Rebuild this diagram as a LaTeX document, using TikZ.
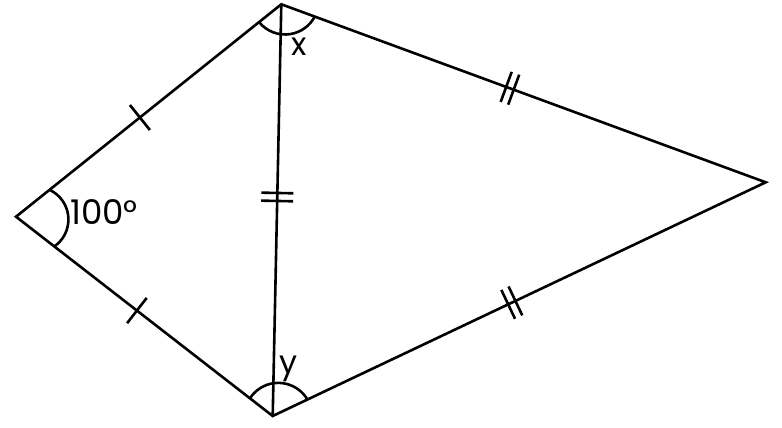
\documentclass[tikz,border=0pt]{standalone}
\usepackage{fontspec}
\setmainfont{Poppins}
\usetikzlibrary{calc}
\begin{document}
\begin{tikzpicture}[x=1pt,y=1pt,
  edge/.style={line width=2.6pt,line cap=round,line join=miter},
  tick/.style={line width=2.6pt},
  anglearc/.style={line width=2.6pt},
  lbl/.style={inner sep=0pt,font=\fontsize{32}{38}\selectfont}]
\useasboundingbox (0,0) rectangle (782,428);
% vertices
\coordinate (L) at (16,211.3);
\coordinate (T) at (281.3,423.7);
\coordinate (R) at (765.7,245.7);
\coordinate (B) at (272.7,12);
% sides
\draw[edge] (L) -- (T) -- (R) -- (B) -- cycle;
\draw[edge] (T) -- (B);
% angle arcs
\coordinate (Tc) at (285.1,427);
\coordinate (Bc) at (278.3,11.3);
\coordinate (Lc) at (35.6,208.5);
\draw[anglearc] ([shift={(219:33.5pt)}]Tc) arc[start angle=219,end angle=332.2,radius=33.5pt];
\draw[anglearc] ([shift={(31:33.8pt)}]Bc) arc[start angle=31,end angle=147,radius=33.8pt];
\draw[anglearc] ([shift={(-53.8:32.8pt)}]Lc) arc[start angle=-53.8,end angle=64,radius=32.8pt];
% single ticks
\coordinate (mLT) at ($(L)!0.467!(T)$);
\coordinate (mLB) at ($(L)!0.471!(B)$);
\draw[tick] ($(mLT)!16pt!90:(T)$) -- ($(mLT)!16pt!-90:(T)$);
\draw[tick] ($(mLB)!16pt!90:(B)$) -- ($(mLB)!16pt!-90:(B)$);
% double ticks
\coordinate (mTB) at ($(T)!0.468!(B)$);
\coordinate (mTR) at ($(T)!0.472!(R)$);
\coordinate (mBR) at ($(B)!0.485!(R)$);
\foreach \m/\e in {mTB/B,mTR/R,mBR/R}{
  \coordinate (a1) at ($(\m)!4pt!(\e)$);
  \coordinate (a2) at ($(\m)!-4pt!(\e)$);
  \draw[tick] ($(a1)!16pt!90:(\e)$) -- ($(a1)!16pt!-90:(\e)$);
  \draw[tick] ($(a2)!16pt!90:(\e)$) -- ($(a2)!16pt!-90:(\e)$);
}
% labels
\node[lbl] (lx) at (299.5,381.5) {x};
\node[lbl,anchor=base] (ly) at (289,54) {y};
\node[lbl,anchor=base west,font=\fontsize{34}{40}\selectfont] (l100) at (70,203.7) {100°};
\end{tikzpicture}
\end{document}
